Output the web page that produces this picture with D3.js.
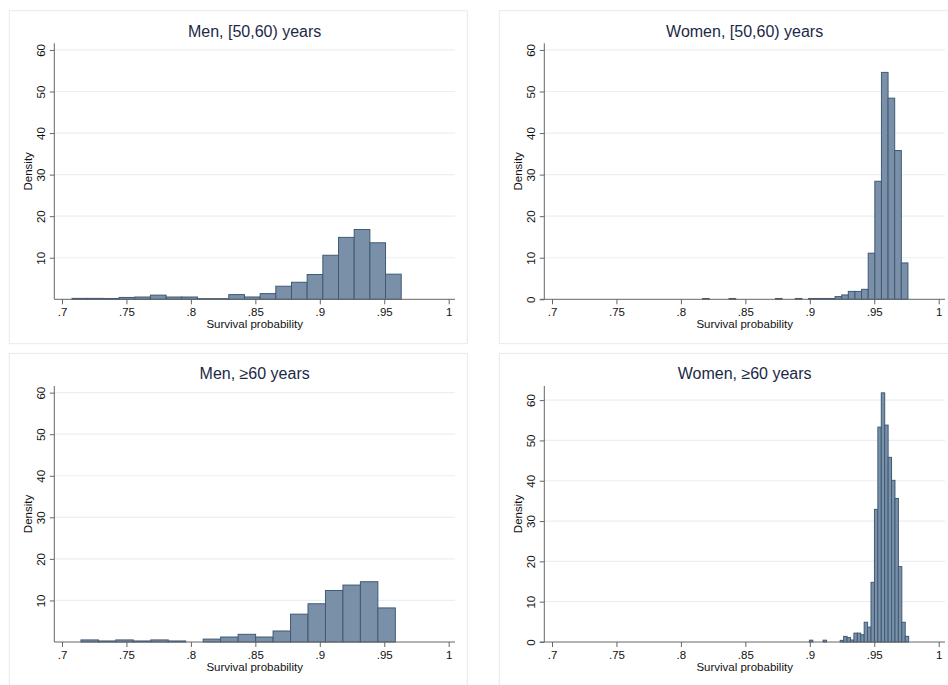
<!DOCTYPE html>
<html>
<head>
<meta charset="utf-8">
<script src="https://cdn.jsdelivr.net/npm/d3@7"></script>
<style>
    body{ margin: 0; background: #fff; }
    text{ font-family: "Liberation Sans", Arial, sans-serif; }
</style>
</head>
<body>
<svg id="chart" width="948" height="685"></svg>
<script>
// panel titles, in drawing order (row by row)
let titles = ["Men, [50,60) years", "Women, [50,60) years", "Men, \u226560 years", "Women, \u226560 years"];

// histogram bins: left edge of first bin, bin width, density per bin
let menYoungStart = 0.7078, menYoungWidth = 0.01216;
let menYoungDensity = [0.22, 0.22, 0.2, 0.45, 0.55, 1.0, 0.55, 0.55, 0.15, 0.15, 1.13,
    0.56, 1.37, 3.15, 4.1, 5.97, 10.6, 14.9, 16.8, 13.6, 6.05];

let womenYoungStart = 0.8168, womenYoungWidth = 0.00514;
let womenYoungDensity = [0.2, 0, 0, 0, 0.2, 0, 0, 0, 0, 0, 0, 0.2, 0, 0, 0.2, 0,
    0.2, 0.2, 0.2, 0.2, 0.65, 1.05, 1.9, 1.9, 2.4, 11.1, 28.4, 54.6, 48.4, 35.8, 8.75];

let menOldStart = 0.7147, menOldWidth = 0.01355;
let menOldDensity = [0.5, 0.25, 0.5, 0.25, 0.5, 0.25, 0, 0.7, 1.2, 1.85, 1.2, 2.65,
    6.7, 9.2, 12.4, 13.7, 14.5, 8.2];

let womenOldStart = 0.8997, womenOldWidth = 0.002655;
let womenOldDensity = [0.45, 0, 0, 0, 0.45, 0, 0, 0, 0, 0.4, 1.4, 1.1, 0.5, 2.2, 2.2,
    1.8, 4.9, 3.7, 14.8, 32.9, 53.3, 61.8, 53.8, 45.8, 40.1, 35.6, 18.7, 4.9, 1.4];

// axis ticks and top of each y range
let xTicks = [0.7, 0.75, 0.8, 0.85, 0.9, 0.95, 1];
let yTicks = [0, 10, 20, 30, 40, 50, 60];
let yMax = [61.6, 61.6, 61.6, 63.5];
let showZero = [false, true, false, true];

let starts = [menYoungStart, womenYoungStart, menOldStart, womenOldStart];
let widths = [menYoungWidth, womenYoungWidth, menOldWidth, womenOldWidth];
let densities = [menYoungDensity, womenYoungDensity, menOldDensity, womenOldDensity];

const panelW = 458, panelH = 333;
const axisX = 45, baseY = 288.6, topY = 32.6, plotRight = 445.7;
const barFill = "#7a90a8", barStroke = "#3e5a75";

let svg = d3.select("#chart");

function fmtTick(v){
    if(v === 1) return "1";
    return d3.format(".2~f")(v).replace(/^0/, "");
}

titles.forEach(function(title, i){
    let col = i % 2, row = Math.floor(i / 2);
    let g = svg.append("g")
        .attr("transform", "translate(" + (9.3 + col * 490) + "," + (10.7 + row * 342.7) + ")");

    g.append("rect")
        .attr("width", panelW).attr("height", panelH)
        .attr("fill", "#fff")
        .attr("stroke", "#e4ecee")
        .attr("stroke-width", 1);

    let x = d3.scaleLinear().domain([0.7, 1]).range([52.7, 439.4]);
    let y = d3.scaleLinear().domain([0, yMax[i]]).range([baseY, topY]);

    // gridlines
    g.selectAll(".grid")
        .data(yTicks.filter(d => d > 0))
        .enter().append("line")
        .attr("x1", axisX).attr("x2", plotRight)
        .attr("y1", d => y(d)).attr("y2", d => y(d))
        .attr("stroke", "#e8f0f2")
        .attr("stroke-width", 1.2);

    // bars
    let bins = densities[i].map(function(d, k){
        return {x0: starts[i] + k * widths[i], x1: starts[i] + (k + 1) * widths[i], value: d};
    }).filter(b => b.value > 0);

    g.selectAll(".bar")
        .data(bins)
        .enter().append("rect")
        .attr("x", b => x(b.x0))
        .attr("width", b => x(b.x1) - x(b.x0))
        .attr("y", b => y(b.value))
        .attr("height", b => Math.max(y(0) - y(b.value), 0.6))
        .attr("fill", barFill)
        .attr("stroke", barStroke)
        .attr("stroke-width", 1);

    // y axis
    let yAxis = d3.axisLeft(y)
        .tickValues(showZero[i] ? yTicks : yTicks.filter(d => d > 0))
        .tickSize(4.5).tickPadding(0)
        .tickFormat(d3.format("d"));
    let ya = g.append("g").attr("transform", "translate(" + axisX + ",0)").call(yAxis);
    ya.select(".domain").attr("d", "M0," + baseY + "V" + topY).attr("stroke", "#666");
    ya.selectAll(".tick line").attr("stroke", "#666");
    ya.selectAll(".tick text")
        .attr("x", 0).attr("y", 0).attr("dy", null)
        .attr("text-anchor", "middle")
        .attr("transform", "translate(-13.6,0) rotate(-90)")
        .attr("dominant-baseline", "central")
        .style("font-size", "11.5px").attr("fill", "#111");

    // x axis
    let xAxis = d3.axisBottom(x)
        .tickValues(xTicks)
        .tickSize(5).tickPadding(4)
        .tickFormat(fmtTick);
    let xa = g.append("g").attr("transform", "translate(0," + baseY + ")").call(xAxis);
    xa.select(".domain").attr("d", "M" + (showZero[i] ? axisX - 4.5 : axisX) + ",0H" + plotRight).attr("stroke", "#666");
    xa.selectAll(".tick line").attr("stroke", "#666");
    xa.selectAll(".tick text")
        .style("font-size", "11.5px").attr("fill", "#111");

    g.append("text")
        .attr("x", (axisX + plotRight) / 2).attr("y", 317.5)
        .attr("text-anchor", "middle")
        .style("font-size", "11.5px").attr("fill", "#111")
        .text("Survival probability");

    g.append("text")
        .attr("transform", "translate(18.7," + ((baseY + topY) / 2) + ") rotate(-90)")
        .attr("text-anchor", "middle")
        .attr("dominant-baseline", "central")
        .style("font-size", "11.5px").attr("fill", "#111")
        .text("Density");

    g.append("text")
        .attr("x", (axisX + plotRight) / 2).attr("y", 26)
        .attr("text-anchor", "middle")
        .style("font-size", "16px").attr("fill", "#1c2946")
        .text(title);
});
</script>
</body>
</html>
